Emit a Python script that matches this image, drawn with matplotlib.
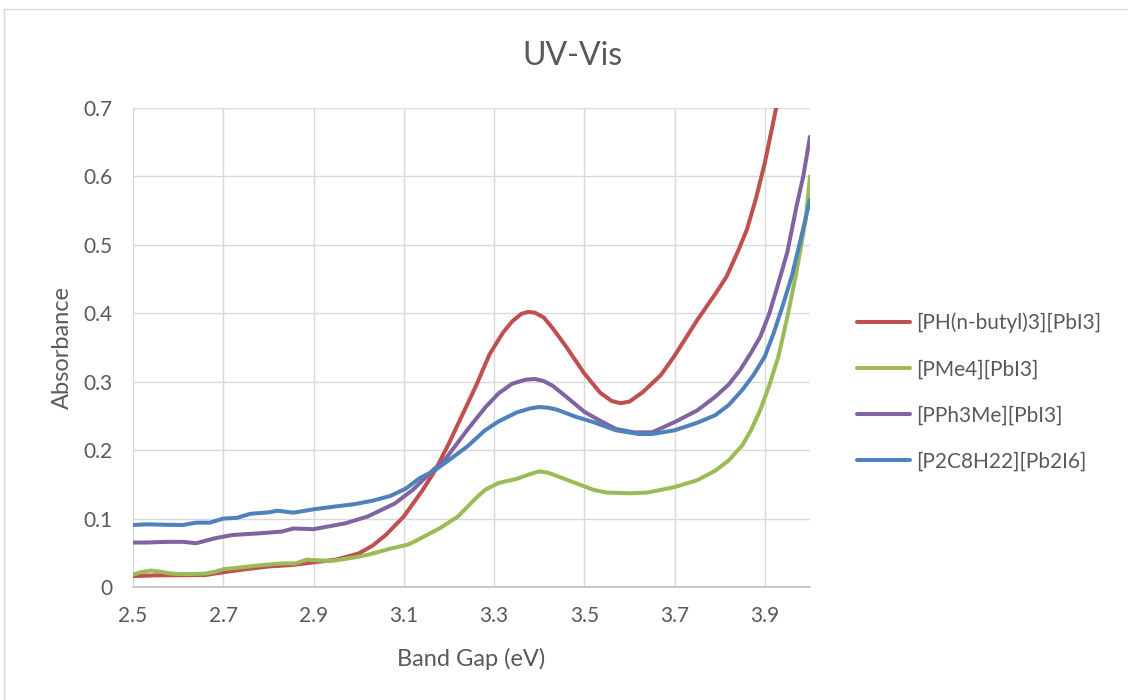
import matplotlib
matplotlib.use("Agg")
import matplotlib.pyplot as plt
from matplotlib.patches import Rectangle
from matplotlib.ticker import FuncFormatter

plt.rcParams['font.family'] = ['Lato', 'DejaVu Sans']

# --- data -----------------------------------------------------------------
labels = ["[PH(n-butyl)3][PbI3]", "[PMe4][PbI3]", "[PPh3Me][PbI3]", "[P2C8H22][Pb2I6]"]
colors = ["#C0504D", "#9BBB59", "#8064A2", "#4F81BD"]

butyl_x = [2.50, 2.55, 2.60, 2.66, 2.71, 2.75, 2.80, 2.85, 2.90, 2.95, 3.00, 3.03,
           3.06, 3.10, 3.14, 3.17, 3.20, 3.23, 3.26, 3.29, 3.32, 3.34, 3.36, 3.375,
           3.39, 3.41, 3.43, 3.46, 3.50, 3.535, 3.56, 3.58, 3.60, 3.63, 3.67, 3.70,
           3.75, 3.79, 3.815, 3.84, 3.86, 3.88, 3.90, 3.925, 3.94]
butyl_y = [0.016, 0.017, 0.0172, 0.0175, 0.0225, 0.026, 0.030, 0.032, 0.036, 0.040,
           0.049, 0.060, 0.076, 0.103, 0.140, 0.171, 0.210, 0.252, 0.294, 0.340,
           0.372, 0.388, 0.399, 0.402, 0.401, 0.394, 0.378, 0.351, 0.312, 0.284,
           0.272, 0.2685, 0.271, 0.285, 0.310, 0.338, 0.390, 0.428, 0.4535, 0.490,
           0.522, 0.567, 0.620, 0.700, 0.750]

pme4_x = [2.50, 2.52, 2.54, 2.56, 2.58, 2.60, 2.63, 2.66, 2.68, 2.70, 2.73, 2.77,
          2.83, 2.86, 2.885, 2.91, 2.94, 2.98, 3.02, 3.07, 3.11, 3.14, 3.18, 3.22,
          3.26, 3.28, 3.31, 3.35, 3.38, 3.40, 3.42, 3.44, 3.48, 3.52, 3.55, 3.60,
          3.64, 3.70, 3.75, 3.79, 3.82, 3.85, 3.87, 3.89, 3.91, 3.93, 3.95, 3.97,
          3.99, 4.00]
pme4_y = [0.018, 0.022, 0.024, 0.0225, 0.020, 0.019, 0.019, 0.0195, 0.022, 0.026,
          0.028, 0.031, 0.0345, 0.0345, 0.040, 0.039, 0.038, 0.042, 0.047, 0.056,
          0.062, 0.072, 0.086, 0.103, 0.130, 0.142, 0.152, 0.158, 0.165, 0.169,
          0.167, 0.162, 0.152, 0.142, 0.138, 0.137, 0.138, 0.146, 0.156, 0.170,
          0.185, 0.207, 0.230, 0.259, 0.295, 0.337, 0.395, 0.460, 0.535, 0.600]

pph3_x = [2.50, 2.53, 2.575, 2.61, 2.64, 2.68, 2.72, 2.77, 2.83, 2.855, 2.90, 2.97,
          3.02, 3.08, 3.12, 3.165, 3.19, 3.24, 3.28, 3.31, 3.34, 3.37, 3.39, 3.41,
          3.43, 3.46, 3.50, 3.535, 3.57, 3.61, 3.65, 3.70, 3.75, 3.79, 3.82, 3.845,
          3.87, 3.89, 3.91, 3.93, 3.95, 3.97, 3.985, 4.00]
pph3_y = [0.065, 0.065, 0.066, 0.066, 0.064, 0.071, 0.076, 0.078, 0.081, 0.0855,
          0.0845, 0.093, 0.103, 0.122, 0.142, 0.171, 0.185, 0.229, 0.262, 0.283,
          0.297, 0.303, 0.304, 0.301, 0.294, 0.278, 0.256, 0.243, 0.231, 0.226,
          0.226, 0.241, 0.258, 0.278, 0.296, 0.317, 0.343, 0.366, 0.400, 0.444,
          0.490, 0.556, 0.600, 0.658]

p2c8_x = [2.50, 2.53, 2.57, 2.61, 2.64, 2.67, 2.70, 2.73, 2.76, 2.80, 2.82, 2.855,
          2.90, 2.94, 2.99, 3.03, 3.07, 3.105, 3.135, 3.165, 3.195, 3.24, 3.28,
          3.31, 3.35, 3.38, 3.40, 3.42, 3.44, 3.48, 3.52, 3.57, 3.62, 3.65, 3.70,
          3.75, 3.79, 3.82, 3.85, 3.875, 3.90, 3.92, 3.94, 3.96, 3.98, 4.00]
p2c8_y = [0.0906, 0.0916, 0.091, 0.0906, 0.094, 0.094, 0.100, 0.101, 0.107, 0.109,
          0.1115, 0.1086, 0.1135, 0.117, 0.121, 0.126, 0.133, 0.144, 0.159, 0.169,
          0.183, 0.205, 0.229, 0.242, 0.255, 0.261, 0.263, 0.262, 0.259, 0.249,
          0.241, 0.229, 0.2236, 0.2236, 0.229, 0.240, 0.251, 0.266, 0.288, 0.310,
          0.337, 0.372, 0.412, 0.455, 0.510, 0.566]

series = [(butyl_x, butyl_y), (pme4_x, pme4_y), (pph3_x, pph3_y), (p2c8_x, p2c8_y)]

x_ticks = [2.5, 2.7, 2.9, 3.1, 3.3, 3.5, 3.7, 3.9]
y_ticks = [0, 0.1, 0.2, 0.3, 0.4, 0.5, 0.6, 0.7]

# --- figure ---------------------------------------------------------------
W, H = 1128, 700
TXT = "#595959"
fig = plt.figure(figsize=(W / 100, H / 100), dpi=100)
fig.patch.set_facecolor("white")

# chart-area frame
fig.patches.append(Rectangle((4 / W, -0.01), 1.0, 1 - 9 / H + 0.01,
                             transform=fig.transFigure, fill=False,
                             edgecolor="#D9D9D9", linewidth=1.0))

ax = fig.add_axes([133 / W, 1 - 587 / H, 677 / W, 479 / H])

for (xs, ys), lab, col in zip(series, labels, colors):
    ax.plot(xs, ys, color=col, linewidth=2.9, label=lab,
            solid_capstyle="round", solid_joinstyle="round")

ax.set_xlim(2.5, 4.0)
ax.set_ylim(0, 0.7)
ax.set_xticks(x_ticks)
ax.set_yticks(y_ticks)
ax.yaxis.set_major_formatter(FuncFormatter(lambda v, p: "0" if abs(v) < 1e-9 else f"{v:.1f}"))
ax.xaxis.set_major_formatter(FuncFormatter(lambda v, p: f"{v:.1f}"))

ax.grid(True, color="#D9D9D9", linewidth=1.0)
ax.set_axisbelow(True)
for s in ("top", "right", "left"):
    ax.spines[s].set_visible(False)
ax.spines["bottom"].set_color("#BFBFBF")
ax.spines["bottom"].set_linewidth(1.2)
ax.tick_params(length=0, labelsize=15, labelcolor=TXT)
ax.tick_params(axis="x", pad=14)
ax.tick_params(axis="y", pad=15)

fig.text(471 / W, 1 - 666 / H, "Band Gap (eV)", ha="center", va="baseline",
         fontsize=17, color=TXT)
fig.text(62 / W, 1 - 347 / H, "Absorbance", ha="center", va="center",
         rotation=90, fontsize=17, color=TXT)
fig.text(572 / W, 1 - 65 / H, "UV-Vis", ha="center", va="baseline",
         fontsize=23, color=TXT)

leg = fig.legend(loc="center left", bbox_to_anchor=(849 / W, 1 - 392 / H),
                 frameon=False, fontsize=15, handlelength=2.55,
                 handletextpad=0.25, labelspacing=1.26, borderaxespad=0)
for t in leg.get_texts():
    t.set_color(TXT)
for h in leg.legend_handles:
    h.set_linewidth(2.9)

fig.savefig("out.png", dpi=100, facecolor="white")
